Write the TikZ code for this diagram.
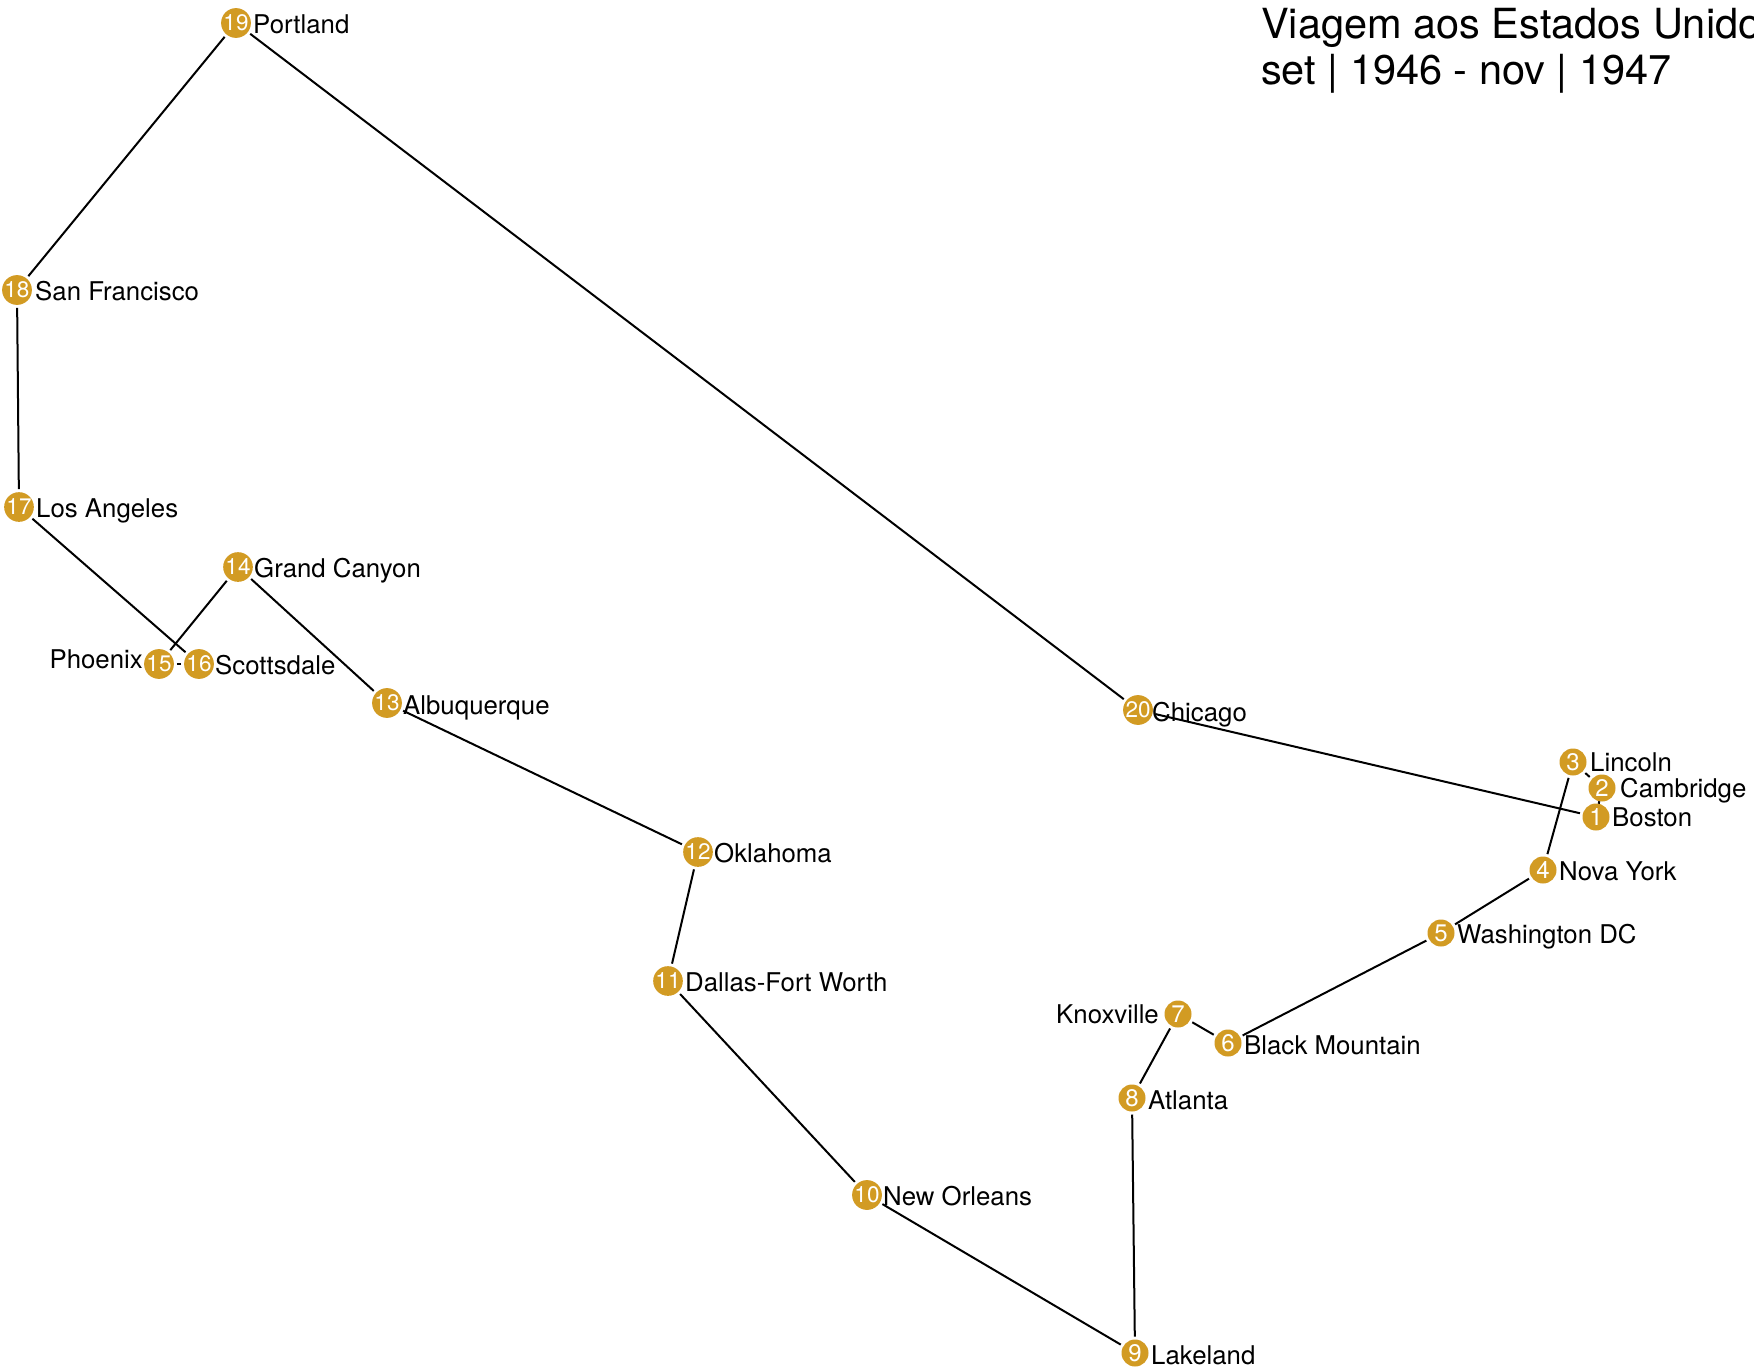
\documentclass[tikz,border=0pt]{standalone}
\usepackage{fontspec}
\setmainfont{TeX Gyre Heros}
\definecolor{gold}{RGB}{210,155,35}
\begin{document}
\begin{tikzpicture}[x=1pt,y=-1pt,
  stop/.style={circle,fill=gold,minimum size=27pt,inner sep=0pt,outer sep=3pt,text=white,font=\fontsize{22.5}{22.5}\selectfont},
  one/.style={stop,font=\fontsize{24}{24}\selectfont},
  lab/.style={anchor=base west,inner sep=0pt,font=\fontsize{25.8}{30}\selectfont},
  labl/.style={anchor=base east,inner sep=0pt,font=\fontsize{25.8}{30}\selectfont},
  ttl/.style={anchor=base west,inner sep=0pt,font=\fontsize{41.5}{48}\selectfont},
  route/.style={line width=2pt,black}]
\clip (0,0) rectangle (1754,1367);
\fill[white] (0,0) rectangle (1754,1367);
% title
\node[ttl] (t1) at (1261,39) {Viagem aos Estados Unidos};
\node[ttl] (t2) at (1261,85) {set | 1946 - nov | 1947};
% stops
\node[one] (s1) at (1596,817) {1};
\node[one] (s2) at (1602,788) {2};
\node[one] (s3) at (1573,762) {3};
\node[one] (s4) at (1543,870) {4};
\node[one] (s5) at (1441,933) {5};
\node[one] (s6) at (1228,1043) {6};
\node[one] (s7) at (1178,1014) {7};
\node[one] (s8) at (1132,1098) {8};
\node[one] (s9) at (1135,1353) {9};
\node[stop] (s10) at (867,1195) {10};
\node[stop] (s11) at (668,981) {11};
\node[stop] (s12) at (698,852) {12};
\node[stop] (s13) at (387,703) {13};
\node[stop] (s14) at (238,567) {14};
\node[stop] (s15) at (159,664) {15};
\node[stop] (s16) at (199,664) {16};
\node[stop] (s17) at (19,507) {17};
\node[stop] (s18) at (17,290) {18};
\node[stop] (s19) at (236,23) {19};
\node[stop] (s20) at (1138,710) {20};
% labels
\node[lab] (l1) at (1612,826) {Boston};
\node[lab] (l2) at (1620,797) {Cambridge};
\node[lab] (l3) at (1590,771) {Lincoln};
\node[lab] (l4) at (1559,880) {Nova York};
\node[lab] (l5) at (1457,943) {Washington DC};
\node[lab] (l6) at (1244,1054) {Black Mountain};
\node[labl] (l7) at (1159,1023) {Knoxville};
\node[lab] (l8) at (1148,1109) {Atlanta};
\node[lab] (l9) at (1151,1364) {Lakeland};
\node[lab] (l10) at (883,1205) {New Orleans};
\node[lab] (l11) at (685,991) {Dallas-Fort Worth};
\node[lab] (l12) at (714,862) {Oklahoma};
\node[lab] (l13) at (403,714) {Albuquerque};
\node[lab] (l14) at (254,577) {Grand Canyon};
\node[labl] (l15) at (143,668) {Phoenix};
\node[lab] (l16) at (215,674) {Scottsdale};
\node[lab] (l17) at (36,517) {Los Angeles};
\node[lab] (l18) at (35,300) {San Francisco};
\node[lab] (l19) at (253,34) {Portland};
\node[lab] (l20) at (1152,721) {Chicago};
% route
\draw[route] (s1) -- (s20);
\draw[route,shorten <=13.5pt,shorten >=13.5pt] (s1.center) -- (s2.center);
\draw[route] (s2) -- (s3);
\draw[route] (s3) -- (s4);
\draw[route] (s4) -- (s5);
\draw[route] (s5) -- (s6);
\draw[route] (s6) -- (s7);
\draw[route] (s7) -- (s8);
\draw[route] (s8) -- (s9);
\draw[route] (s9) -- (s10);
\draw[route] (s10) -- (s11);
\draw[route] (s11) -- (s12);
\draw[route] (s12) -- (s13);
\draw[route] (s13) -- (s14);
\draw[route] (s14) -- (s15);
\draw[route] (s15) -- (s16);
\draw[route] (s16) -- (s17);
\draw[route] (s17) -- (s18);
\draw[route] (s18) -- (s19);
\draw[route] (s19) -- (s20);
\end{tikzpicture}
\end{document}
